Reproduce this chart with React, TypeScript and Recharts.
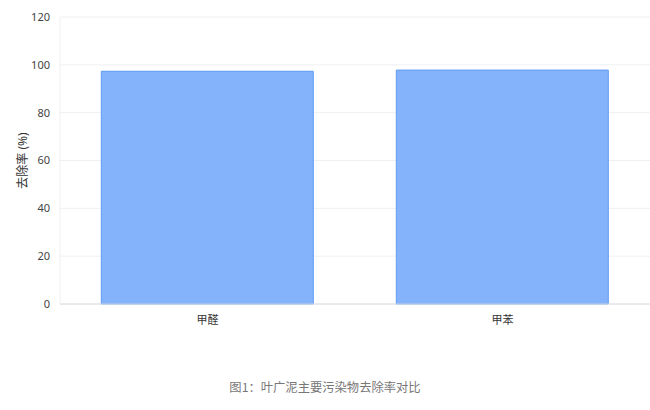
import * as React from 'react';
import { Bar, BarChart, CartesianGrid, XAxis, YAxis } from 'recharts';

const pollutants = ['甲醛', '甲苯'];
const removalRates = [97.3, 97.8];
const yTicks = [0, 20, 40, 60, 80, 100, 120];

const chartData = pollutants.map((name, i) => ({ name, rate: removalRates[i] }));

const FONT = '"Noto Sans", "Noto Sans CJK SC", sans-serif';

export default function App() {
  return (
    <div style={{ position: 'absolute', top: 0, left: 0, width: 650, height: 410, background: '#fff' }}>
      <BarChart
        width={650}
        height={340}
        data={chartData}
        margin={{ top: 17, right: 0, bottom: 6, left: 0 }}
        barCategoryGap="14%"
      >
        <CartesianGrid vertical={false} stroke="#eef0f3" />
        <XAxis
          dataKey="name"
          axisLine={{ stroke: '#d8dce2' }}
          tickLine={false}
          tickSize={0}
          tickMargin={12}
          height={30}
          tick={{ fill: '#333', fontSize: 11, fontFamily: FONT }}
        />
        <YAxis
          domain={[0, 120]}
          ticks={yTicks}
          width={60}
          axisLine={{ stroke: '#eef0f3' }}
          tickLine={false}
          tickSize={0}
          tickMargin={10}
          tick={{ fill: '#444', fontSize: 11, fontFamily: FONT }}
          label={{
            value: '去除率 (%)',
            angle: -90,
            position: 'insideLeft',
            offset: 23,
            style: { textAnchor: 'middle', fill: '#333', fontSize: 12, fontFamily: FONT },
          }}
        />
        <Bar dataKey="rate" fill="#84b3fc" stroke="#5e9bf2" strokeWidth={1} isAnimationActive={false} />
      </BarChart>
      <div
        style={{
          position: 'absolute',
          top: 378,
          left: 0,
          width: 650,
          textAlign: 'center',
          fontSize: 12.3,
          color: '#777',
          fontFamily: '"Noto Sans CJK SC", serif',
        }}
      >
        图1：叶广泥主要污染物去除率对比
      </div>
    </div>
  );
}
